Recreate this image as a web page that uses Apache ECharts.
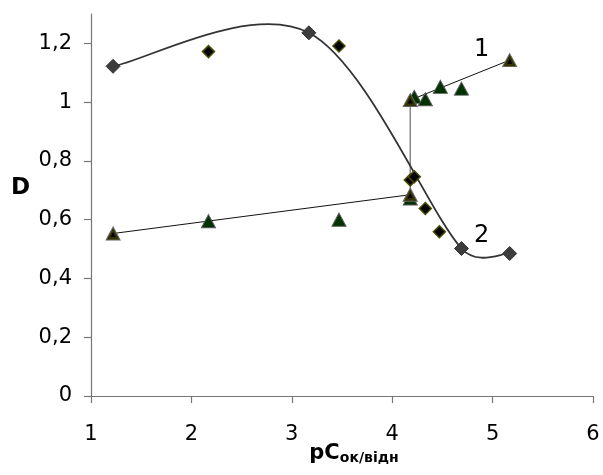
<!DOCTYPE html>
<html>
<head>
<meta charset="utf-8">
<script src="https://cdn.jsdelivr.net/npm/echarts@6/dist/echarts.min.js"></script>
<style>
  html, body { margin: 0; padding: 0; background: #fff; }
  #chart { width: 603px; height: 475px; }
</style>
</head>
<body>
<div id="chart"></div>
<script>
  // крива 2 (згладжена лінія, сірі ромби)
  let curveX = [1.22, 3.17, 4.69, 5.17]
  let curveY = [1.122, 1.236, 0.502, 0.485]
  // чорні ромби
  let blackX = [2.17, 3.47, 4.18, 4.22, 4.33, 4.47]
  let blackY = [1.172, 1.191, 0.735, 0.746, 0.638, 0.559]
  // зелені трикутники
  let greenX = [2.17, 3.47, 4.18, 4.22, 4.33, 4.48, 4.69]
  let greenY = [0.595, 0.600, 0.672, 1.018, 1.010, 1.052, 1.046]
  // оливкові трикутники (кінці ліній 1)
  let oliveX = [1.22, 4.18, 4.18, 5.17]
  let oliveY = [0.553, 0.685, 1.007, 1.143]
  // підписи кривих
  let tagText = ['1', '2']
  let tagX = [4.89, 4.89]
  let tagY = [1.178, 0.545]
  let yTicks = [0, 0.2, 0.4, 0.6, 0.8, 1, 1.2]

  function pairs(xs, ys) {
    let out = []
    for (let i = 0; i < xs.length; i++) out.push([xs[i], ys[i]])
    return out
  }
  let olive = pairs(oliveX, oliveY)
  let curve = pairs(curveX, curveY)

  // згладжування як в Excel: дотична (next - prev) / 6, не більше половини відрізка
  function ctrl(p, prev, next, segLen, sign) {
    let tx = (next[0] - prev[0]) / 6
    let ty = (next[1] - prev[1]) / 6
    let len = Math.sqrt(tx * tx + ty * ty)
    let k = len > segLen * 0.5 ? segLen * 0.5 / len : 1
    return [p[0] + sign * tx * k, p[1] + sign * ty * k]
  }
  function curveSegment(params, api) {
    let i = params.dataIndex
    if (i >= curve.length - 1) return null
    let pts = curve.map(function (d) { return api.coord(d) })
    let p0 = pts[Math.max(i - 1, 0)]
    let p1 = pts[i]
    let p2 = pts[i + 1]
    let p3 = pts[Math.min(i + 2, pts.length - 1)]
    let seg = Math.sqrt(Math.pow(p2[0] - p1[0], 2) + Math.pow(p2[1] - p1[1], 2))
    let c1 = ctrl(p1, p0, p2, seg, 1)
    let c2 = ctrl(p2, p1, p3, seg, -1)
    return {
      type: 'bezierCurve',
      shape: { x1: p1[0], y1: p1[1], x2: p2[0], y2: p2[1], cpx1: c1[0], cpy1: c1[1], cpx2: c2[0], cpy2: c2[1] },
      style: { stroke: '#333', lineWidth: 1.8, fill: null }
    }
  }

  let font = 'DejaVu Sans'
  let dom = document.getElementById('chart')
  let myChart = echarts.init(dom)
  let axisColor = '#777'
  let option = {
    animation: false,
    grid: { left: 91, right: 10, top: 14, bottom: 79, outerBoundsMode: 'none', containLabel: false },
    xAxis: {
      type: 'value',
      min: 1,
      max: 6,
      interval: 1,
      name: '{a|pC}{b|ок/відн}',
      nameLocation: 'middle',
      nameGap: 47,
      nameMoveOverlap: false,
      nameTextStyle: {
        rich: {
          a: { fontFamily: font, fontSize: 21, fontWeight: 'bold', color: '#000', verticalAlign: 'top', lineHeight: 22, padding: [0, 0, 0, 24] },
          b: { fontFamily: font, fontSize: 14, fontWeight: 'bold', color: '#000', verticalAlign: 'bottom', lineHeight: 14, padding: [15, 0, 0, 0] }
        }
      },
      axisLine: { lineStyle: { color: axisColor, width: 1.2 } },
      axisTick: { length: 7, lineStyle: { color: axisColor, width: 1.2 } },
      axisLabel: { margin: 28, fontFamily: font, fontSize: 21, color: '#000' },
      splitLine: { show: false }
    },
    yAxis: {
      type: 'value',
      min: 0,
      max: 1.3,
      name: 'D',
      nameLocation: 'middle',
      nameRotate: 0,
      nameGap: 61,
      nameMoveOverlap: false,
      nameTextStyle: { fontFamily: font, fontSize: 23, fontWeight: 'bold', color: '#000', verticalAlign: 'bottom', padding: [0, 0, 5, 0] },
      axisLine: { show: true, lineStyle: { color: axisColor, width: 1.2 } },
      axisTick: { show: true, length: 7, customValues: yTicks, lineStyle: { color: axisColor, width: 1.2 } },
      axisLabel: {
        customValues: yTicks,
        margin: 19,
        fontFamily: font,
        fontSize: 21,
        color: '#000',
        formatter: function (v) { return String(v).replace('.', ',') }
      },
      splitLine: { show: false }
    },
    series: [
      {
        // нижня лінія 1
        type: 'line',
        data: [olive[0], olive[1]],
        symbol: 'none',
        lineStyle: { color: '#111', width: 1 },
        z: 2
      },
      {
        // вертикальний стрибок
        type: 'line',
        data: [olive[1], olive[2]],
        symbol: 'none',
        lineStyle: { color: '#888', width: 1.5 },
        z: 2
      },
      {
        // верхня лінія 1
        type: 'line',
        data: [olive[2], olive[3]],
        symbol: 'none',
        lineStyle: { color: '#111', width: 1 },
        z: 2
      },
      {
        // крива 2
        type: 'custom',
        data: curve,
        renderItem: curveSegment,
        z: 3
      },
      {
        type: 'scatter',
        data: curve,
        symbol: 'diamond',
        symbolSize: [14, 14],
        itemStyle: { color: '#3c3c3c', borderColor: '#333', borderWidth: 1, opacity: 1 },
        z: 4
      },
      {
        type: 'scatter',
        data: pairs(blackX, blackY),
        symbol: 'diamond',
        symbolSize: [12, 12],
        itemStyle: { color: '#000', borderColor: '#4a4a00', borderWidth: 1.5, opacity: 1 },
        z: 4
      },
      {
        type: 'scatter',
        data: pairs(greenX, greenY),
        symbol: 'triangle',
        symbolSize: [14, 13],
        itemStyle: { color: '#003300', borderColor: '#555', borderWidth: 1, opacity: 1 },
        z: 5
      },
      {
        type: 'scatter',
        data: olive,
        symbol: 'triangle',
        symbolSize: [14, 13],
        itemStyle: { color: '#333300', borderColor: '#666', borderWidth: 1, opacity: 1 },
        z: 6
      },
      {
        type: 'scatter',
        data: olive,
        symbol: 'triangle',
        symbolSize: [5, 5],
        symbolOffset: [0, 1],
        itemStyle: { color: '#000', opacity: 1 },
        z: 7
      },
      {
        type: 'scatter',
        data: tagText.map(function (t, i) { return [tagX[i], tagY[i], t] }),
        symbolSize: 0,
        itemStyle: { opacity: 1 },
        label: {
          show: true,
          position: 'inside',
          formatter: function (p) { return p.value[2] },
          fontFamily: font,
          fontSize: 24,
          color: '#000',
          opacity: 1
        },
        z: 8
      }
    ]
  }
  myChart.setOption(option)
</script>
</body>
</html>
